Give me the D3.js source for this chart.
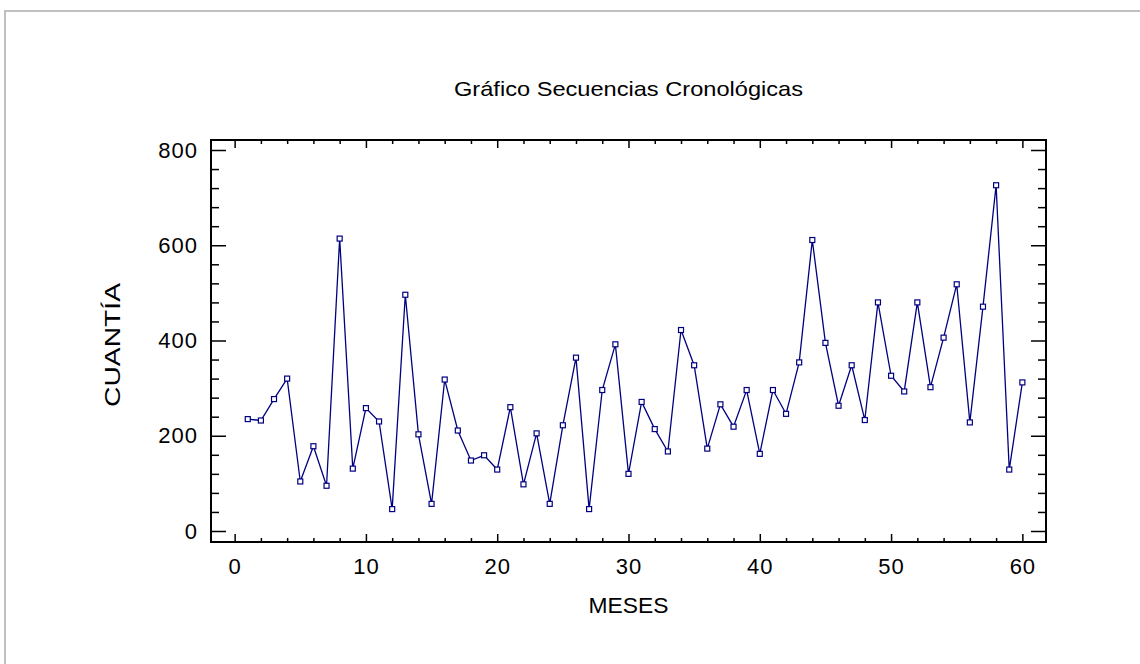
<!DOCTYPE html>
<html>
<head>
<meta charset="utf-8">
<script src="https://cdn.jsdelivr.net/npm/d3@7"></script>
<style>
  body { margin: 0; background: #fff; }
  text { font-family: "Liberation Sans", Arial, sans-serif; fill: #000; }
</style>
</head>
<body>
<div id="chart"></div>
<script>
// months 1..60
const meses = d3.range(1, 61);
const cuantia = [235,232,277,320,104,178,95,614,131,258,
                 230,46,496,203,57,318,211,148,159,129,
                 260,98,205,57,222,364,46,296,392,120,
                 271,214,167,422,348,173,266,219,296,162,
                 296,246,354,611,395,263,348,233,480,326,
                 293,480,302,406,518,228,471,726,129,312];
const xTicks = [0,10,20,30,40,50,60];
const yTicks = [0,200,400,600,800];

const title = 'Gráfico Secuencias Cronológicas';
const xLabel = 'MESES';
const yLabel = 'CUANTÍA';

const W = 1140, H = 664;
const box = {left:211, right:1046, top:140, bottom:542};

const svg = d3.select('#chart')
.append('svg')
.attr('width',W)
.attr('height',H);

// outer gray frame
svg.append('rect')
.attr('x',5).attr('y',11)
.attr('width',W+10).attr('height',H+10)
.attr('fill','#fff')
.attr('stroke','#c0c0c0')
.attr('stroke-width',2);

const x = d3.scaleLinear().domain([-1.8,61.8]).range([box.left,box.right]);
const y = d3.scaleLinear().domain([-23.1,821]).range([box.bottom,box.top]);

// minor ticks
const xMinor = d3.range(0,61,2).filter(d => d%10 !== 0);
const yMinor = d3.range(0,801,40).filter(d => d%200 !== 0);

function styleAxis(g){
    g.select('.domain').remove();
    g.selectAll('line').attr('stroke','#000').attr('stroke-width',1.5);
    g.selectAll('text')
    .style('font-size','22px')
    .style('letter-spacing','1px')
    .style('font-family','"Liberation Sans", Arial, sans-serif');
}

// bottom
svg.append('g').attr('transform',`translate(0,${box.bottom})`)
.call(d3.axisBottom(x).tickValues(xTicks).tickSize(-8).tickPadding(16).tickFormat(d3.format('d')))
.call(styleAxis);
svg.append('g').attr('transform',`translate(0,${box.bottom})`)
.call(d3.axisBottom(x).tickValues(xMinor).tickSize(-4).tickFormat(''))
.call(styleAxis);
// top
svg.append('g').attr('transform',`translate(0,${box.top})`)
.call(d3.axisTop(x).tickValues(xTicks).tickSize(-8).tickFormat(''))
.call(styleAxis);
svg.append('g').attr('transform',`translate(0,${box.top})`)
.call(d3.axisTop(x).tickValues(xMinor).tickSize(-4).tickFormat(''))
.call(styleAxis);
// left
svg.append('g').attr('transform',`translate(${box.left},0)`)
.call(d3.axisLeft(y).tickValues(yTicks).tickSize(-15).tickPadding(13).tickFormat(d3.format('d')))
.call(styleAxis);
svg.append('g').attr('transform',`translate(${box.left},0)`)
.call(d3.axisLeft(y).tickValues(yMinor).tickSize(-8).tickFormat(''))
.call(styleAxis);
// right
svg.append('g').attr('transform',`translate(${box.right},0)`)
.call(d3.axisRight(y).tickValues(yTicks).tickSize(-15).tickFormat(''))
.call(styleAxis);
svg.append('g').attr('transform',`translate(${box.right},0)`)
.call(d3.axisRight(y).tickValues(yMinor).tickSize(-8).tickFormat(''))
.call(styleAxis);

// plot frame
svg.append('rect')
.attr('x',box.left).attr('y',box.top)
.attr('width',box.right-box.left).attr('height',box.bottom-box.top)
.attr('fill','none')
.attr('stroke','#000')
.attr('stroke-width',2);

const pts = meses.map((m,i) => ({m:m, v:cuantia[i]}));

const line = d3.line()
.x(d => x(d.m))
.y(d => y(d.v));

svg.append('path')
.datum(pts)
.attr('d',line)
.attr('fill','none')
.attr('stroke','#000080')
.attr('stroke-width',1.3);

svg.append('g')
.selectAll('rect')
.data(pts)
.enter()
.append('rect')
.attr('x',d => x(d.m)-2.5)
.attr('y',d => y(d.v)-2.5)
.attr('width',5)
.attr('height',5)
.attr('fill','#fff')
.attr('stroke','#000080')
.attr('stroke-width',1.2);

// titles
svg.append('text')
.attr('x',(box.left+box.right)/2)
.attr('y',96)
.attr('text-anchor','middle')
.attr('textLength',349)
.attr('lengthAdjust','spacingAndGlyphs')
.style('font-size','21px')
.text(title);

svg.append('text')
.attr('x',(box.left+box.right)/2)
.attr('y',613)
.attr('text-anchor','middle')
.attr('textLength',80)
.attr('lengthAdjust','spacingAndGlyphs')
.style('font-size','22px')
.text(xLabel);

svg.append('text')
.attr('transform',`translate(120,${(box.top+box.bottom)/2 + 4}) rotate(-90)`)
.attr('text-anchor','middle')
.attr('textLength',124)
.attr('lengthAdjust','spacingAndGlyphs')
.style('font-size','22px')
.text(yLabel);
</script>
</body>
</html>
